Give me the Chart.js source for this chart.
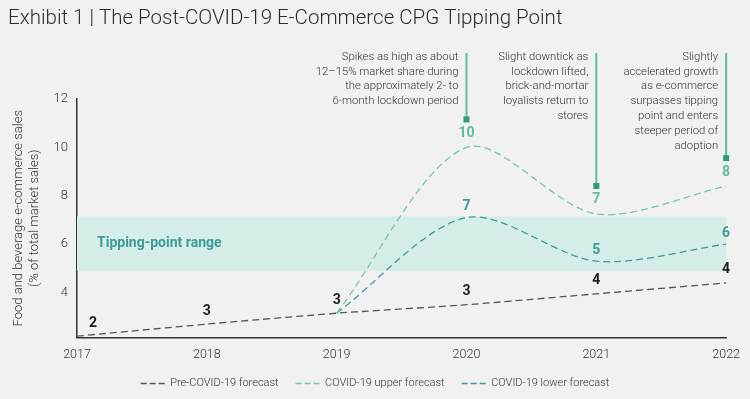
<!DOCTYPE html>
<html>
<head>
<meta charset="utf-8">
<script src="https://cdn.jsdelivr.net/npm/chart.js@4.4.0/dist/chart.umd.min.js"></script>
<style>
  html, body { margin: 0; padding: 0; background: #f1f1f1; }
</style>
</head>
<body>
<canvas id="tippingChart" width="750" height="399"></canvas>
<script>
const years = ['2017', '2018', '2019', '2020', '2021', '2022'];
const preCovid = [2.2, 2.7, 3.15, 3.5, 3.95, 4.4];
const upperForecast = [null, null, 3.15, 10.0, 7.25, 8.4];
const lowerForecast = [null, null, 3.15, 7.1, 5.3, 6.0];
const preLabels = ['2', '3', '3', '3', '4', '4'];
const upperLabels = [null, null, null, '10', '7', '8'];
const lowerLabels = [null, null, null, '7', '5', '6'];
const yTicks = [4, 6, 8, 10, 12];
const tippingRange = [4.9, 7.15];
const notes = [
    { index: 3, lines: ['Spikes as high as about', '12–15% market share during', 'the approximately 2- to', '6-month lockdown period'] },
    { index: 4, lines: ['Slight downtick as', 'lockdown lifted,', 'brick-and-mortar', 'loyalists return to', 'stores'] },
    { index: 5, lines: ['Slightly', 'accelerated growth', 'as e-commerce', 'surpasses tipping', 'point and enters', 'steeper period of', 'adoption'] }
];

const FONT = 'Roboto, "Noto Sans", sans-serif';
const GREEN = '#5dbf95';
const TEAL = '#3c9d98';

// background, title, band, notes and value labels
const decor = {
    id: 'decor',
    beforeDraw(chart) {
        const ctx = chart.ctx;
        ctx.save();
        ctx.fillStyle = '#f1f1f1';
        ctx.fillRect(0, 0, chart.width, chart.height);
        ctx.fillStyle = '#2b2b2b';
        ctx.font = '300 20.5px ' + FONT;
        ctx.textBaseline = 'middle';
        ctx.fillText('Exhibit 1 | The Post-COVID-19 E-Commerce CPG Tipping Point', 8, 19);
        ctx.restore();
    },
    beforeDatasetsDraw(chart) {
        const ctx = chart.ctx;
        const x = chart.scales.x, y = chart.scales.y;
        const x0 = x.getPixelForValue(0), x1 = x.getPixelForValue(years.length - 1);
        const yTop = y.getPixelForValue(tippingRange[1]);
        const yBot = y.getPixelForValue(tippingRange[0]);
        ctx.save();
        ctx.fillStyle = '#d5ede8';
        ctx.fillRect(x0, yTop, x1 - x0, yBot - yTop);
        ctx.fillStyle = TEAL;
        ctx.font = 'bold 14px ' + FONT;
        ctx.textBaseline = 'middle';
        ctx.fillText('Tipping-point range', 97, (yTop + yBot) / 2);
        ctx.restore();
    },
    afterDatasetsDraw(chart) {
        const ctx = chart.ctx;
        const x = chart.scales.x, y = chart.scales.y;
        ctx.save();
        ctx.textAlign = 'center';
        ctx.textBaseline = 'middle';
        ctx.font = 'bold 14px ' + FONT;
        const sets = [
            { vals: preCovid, labels: preLabels, color: '#1e1e1e', dy: -13 },
            { vals: upperForecast, labels: upperLabels, color: GREEN, dy: -14 },
            { vals: lowerForecast, labels: lowerLabels, color: TEAL, dy: -11 }
        ];
        sets.forEach(s => {
            s.labels.forEach((t, i) => {
                if (t === null) return;
                let px = x.getPixelForValue(i);
                if (i === 0) px += 16;
                ctx.fillStyle = s.color;
                ctx.fillText(t, px, y.getPixelForValue(s.vals[i]) + s.dy);
            });
        });

        notes.forEach(n => {
            const px = x.getPixelForValue(n.index);
            const bottom = y.getPixelForValue(upperForecast[n.index]) - 28;
            ctx.strokeStyle = GREEN;
            ctx.lineWidth = 2;
            ctx.beginPath();
            ctx.moveTo(px, 53);
            ctx.lineTo(px, bottom);
            ctx.stroke();
            ctx.fillStyle = '#2f9e6f';
            ctx.fillRect(px - 3, bottom - 3, 6, 6);
            ctx.fillStyle = '#333';
            ctx.font = '300 11.3px ' + FONT;
            ctx.textAlign = 'right';
            n.lines.forEach((line, k) => ctx.fillText(line, px - 8, 57 + k * 14.8));
        });
        ctx.restore();
    }
};

const lineStyle = {
    borderWidth: 1.3,
    borderDash: [7, 4],
    pointRadius: 0,
    tension: 0.3,
    fill: false,
    spanGaps: false
};

new Chart(document.getElementById('tippingChart').getContext('2d'), {
    type: 'line',
    data: {
        labels: years,
        datasets: [
            Object.assign({ label: 'Pre-COVID-19 forecast', data: preCovid, borderColor: '#555555', backgroundColor: '#555555' }, lineStyle, { tension: 0.2 }),
            Object.assign({ label: 'COVID-19 upper forecast', data: upperForecast, borderColor: '#74c9a6', backgroundColor: '#74c9a6' }, lineStyle),
            Object.assign({ label: 'COVID-19 lower forecast', data: lowerForecast, borderColor: TEAL, backgroundColor: TEAL }, lineStyle)
        ]
    },
    options: {
        responsive: false,
        animation: false,
        devicePixelRatio: 1,
        layout: { padding: { left: 22, right: 22, top: 99, bottom: 0 } },
        scales: {
            x: {
                grid: { display: false, drawTicks: false },
                border: { display: true, color: '#333', width: 1.5 },
                ticks: { color: '#333', padding: 10, font: { family: FONT, size: 12.5, weight: 300 }, maxRotation: 0 },
                afterFit(scale) { scale.height = 23.6; }
            },
            y: {
                min: 2.15,
                max: 12,
                grid: { display: false, drawTicks: false },
                border: { display: true, color: '#333', width: 1.5 },
                ticks: { color: '#333', padding: 9, font: { family: FONT, size: 13, weight: 300 } },
                afterBuildTicks(scale) { scale.ticks = yTicks.map(v => ({ value: v })); },
                title: {
                    display: true,
                    text: ['Food and beverage e-commerce sales', '(% of total market sales)'],
                    color: '#333',
                    font: { family: FONT, size: 13, weight: 300 },
                    padding: { top: -11, bottom: 0 }
                },
                afterFit(scale) { scale.width = 55; }
            }
        },
        plugins: {
            legend: {
                display: true,
                position: 'bottom',
                labels: {
                    usePointStyle: true,
                    pointStyle: 'line',
                    pointStyleWidth: 24,
                    padding: 17,
                    color: '#333',
                    font: { family: FONT, size: 11, weight: 300 },
                    generateLabels(chart) {
                        const items = Chart.defaults.plugins.legend.labels.generateLabels(chart);
                        items.forEach(it => { it.lineDash = [6, 3]; it.lineWidth = 1.3; });
                        return items;
                    }
                }
            },
            tooltip: { enabled: false }
        }
    },
    plugins: [decor]
});
</script>
</body>
</html>
